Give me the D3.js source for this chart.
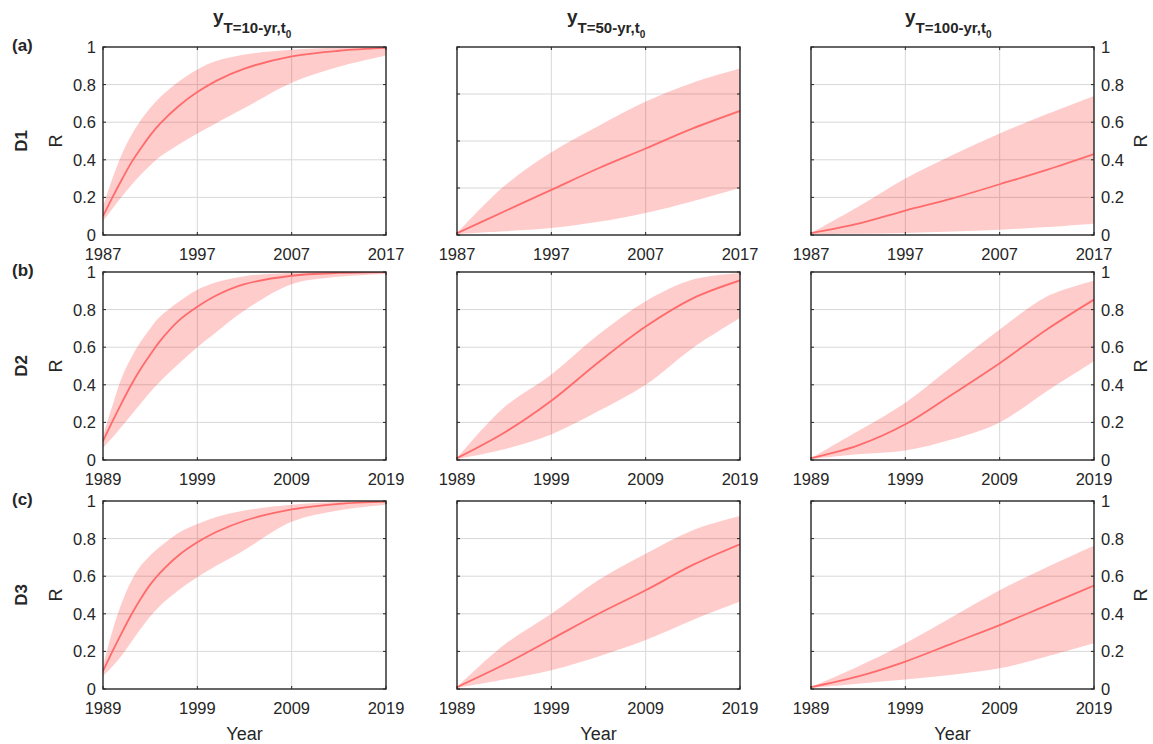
<!DOCTYPE html>
<html>
<head>
<meta charset="utf-8">
<script src="https://cdn.jsdelivr.net/npm/d3@7"></script>
<style>
  body { margin: 0; background: #fff; }
  svg { display: block; }
  text { font-family: "Liberation Sans", Arial, Helvetica, sans-serif; fill: #262626; }
</style>
</head>
<body>
<svg id="fig" width="1153" height="744"></svg>
<script>
// ---- data: reliability R over the design life, mean and 90% band ----
const rowLabels = ["(a)", "(b)", "(c)"];
const rowNames = ["D1", "D2", "D3"];
const startYears = [1987, 1989, 1989];
const returnPeriods = ["10", "50", "100"];

const xTicksD1 = [1987, 1997, 2007, 2017];
const xTicksD23 = [1989, 1999, 2009, 2019];
const yTicks = [0, 0.2, 0.4, 0.6, 0.8, 1];
const yTicksQuarter = [0, 0.25, 0.5, 0.75, 1];
const yTickLabels = ["0", "0.2", "0.4", "0.6", "0.8", "1"];

// years since the start of the record at which values are given
const fastOffsets = [0, 1, 2, 3, 4, 5, 6, 8, 10, 12, 15, 20, 25, 30];
const slowOffsets = [0, 5, 10, 15, 20, 25, 30];

// D1
const d1T10Mean  = [0.10, 0.20, 0.295, 0.385, 0.46, 0.53, 0.59, 0.685, 0.76, 0.82, 0.885, 0.95, 0.98, 0.995];
const d1T10Upper = [0.15, 0.30, 0.43, 0.53, 0.61, 0.675, 0.73, 0.815, 0.88, 0.925, 0.96, 0.985, 0.996, 1.0];
const d1T10Lower = [0.075, 0.14, 0.205, 0.265, 0.32, 0.37, 0.415, 0.48, 0.54, 0.595, 0.675, 0.81, 0.895, 0.955];
const d1T50Mean  = [0.01, 0.125, 0.24, 0.355, 0.46, 0.567, 0.66];
const d1T50Upper = [0.01, 0.26, 0.44, 0.58, 0.71, 0.81, 0.885];
const d1T50Lower = [0.005, 0.02, 0.037, 0.07, 0.117, 0.18, 0.25];
const d1T100Mean  = [0.01, 0.06, 0.13, 0.195, 0.27, 0.346, 0.43];
const d1T100Upper = [0.01, 0.15, 0.30, 0.425, 0.54, 0.643, 0.74];
const d1T100Lower = [0.005, 0.006, 0.01, 0.018, 0.028, 0.042, 0.06];

// D2
const d2T10Mean  = [0.10, 0.205, 0.305, 0.40, 0.485, 0.56, 0.63, 0.74, 0.815, 0.875, 0.935, 0.98, 0.995, 1.0];
const d2T10Upper = [0.125, 0.29, 0.44, 0.545, 0.63, 0.70, 0.76, 0.84, 0.905, 0.945, 0.978, 0.996, 1.0, 1.0];
const d2T10Lower = [0.065, 0.12, 0.18, 0.24, 0.30, 0.36, 0.415, 0.51, 0.60, 0.68, 0.795, 0.935, 0.975, 0.99];
const d2T50Mean  = [0.01, 0.145, 0.315, 0.52, 0.71, 0.86, 0.955];
const d2T50Upper = [0.01, 0.28, 0.455, 0.667, 0.845, 0.96, 0.995];
const d2T50Lower = [0.005, 0.057, 0.136, 0.26, 0.40, 0.596, 0.755];
const d2T100Mean  = [0.01, 0.078, 0.19, 0.35, 0.515, 0.694, 0.853];
const d2T100Upper = [0.01, 0.154, 0.305, 0.50, 0.694, 0.87, 0.954];
const d2T100Lower = [0.005, 0.03, 0.05, 0.11, 0.20, 0.366, 0.525];

// D3
const d3T10Mean  = [0.095, 0.20, 0.30, 0.395, 0.48, 0.555, 0.615, 0.71, 0.78, 0.835, 0.895, 0.955, 0.985, 0.997];
const d3T10Upper = [0.12, 0.31, 0.46, 0.575, 0.655, 0.71, 0.755, 0.83, 0.877, 0.915, 0.95, 0.98, 0.995, 1.0];
const d3T10Lower = [0.07, 0.12, 0.18, 0.25, 0.32, 0.385, 0.44, 0.525, 0.595, 0.655, 0.74, 0.89, 0.95, 0.98];
const d3T50Mean  = [0.01, 0.13, 0.265, 0.40, 0.525, 0.66, 0.77];
const d3T50Upper = [0.01, 0.235, 0.40, 0.58, 0.72, 0.845, 0.92];
const d3T50Lower = [0.005, 0.05, 0.10, 0.173, 0.26, 0.367, 0.465];
const d3T100Mean  = [0.01, 0.067, 0.146, 0.243, 0.34, 0.445, 0.55];
const d3T100Upper = [0.01, 0.12, 0.243, 0.384, 0.525, 0.648, 0.762];
const d3T100Lower = [0.005, 0.028, 0.05, 0.076, 0.11, 0.173, 0.243];

// ---- layout ----
const colLeft = [103, 457, 811];
const rowTop = [47, 272, 501];
const plotW = 283, plotH = 188;
const titleOffset = [110, 110, 94];
const tickLen = 3;

const panels = [
  { r: 0, c: 0, off: fastOffsets, mean: d1T10Mean,  hi: d1T10Upper,  lo: d1T10Lower,  yt: yTicks },
  { r: 0, c: 1, off: slowOffsets, mean: d1T50Mean,  hi: d1T50Upper,  lo: d1T50Lower,  yt: yTicksQuarter },
  { r: 0, c: 2, off: slowOffsets, mean: d1T100Mean, hi: d1T100Upper, lo: d1T100Lower, yt: yTicks },
  { r: 1, c: 0, off: fastOffsets, mean: d2T10Mean,  hi: d2T10Upper,  lo: d2T10Lower,  yt: yTicks },
  { r: 1, c: 1, off: slowOffsets, mean: d2T50Mean,  hi: d2T50Upper,  lo: d2T50Lower,  yt: yTicks },
  { r: 1, c: 2, off: slowOffsets, mean: d2T100Mean, hi: d2T100Upper, lo: d2T100Lower, yt: yTicks },
  { r: 2, c: 0, off: fastOffsets, mean: d3T10Mean,  hi: d3T10Upper,  lo: d3T10Lower,  yt: yTicks },
  { r: 2, c: 1, off: slowOffsets, mean: d3T50Mean,  hi: d3T50Upper,  lo: d3T50Lower,  yt: yTicks },
  { r: 2, c: 2, off: slowOffsets, mean: d3T100Mean, hi: d3T100Upper, lo: d3T100Lower, yt: yTicks }
];

const svg = d3.select("#fig");
const axisColor = "#262626";
const smooth = d3.curveCatmullRom.alpha(0.5);

panels.forEach((p, i) => {
  const x0 = colLeft[p.c], y0 = rowTop[p.r];
  const start = startYears[p.r];
  const xTicks = p.r === 0 ? xTicksD1 : xTicksD23;
  const x = d3.scaleLinear().domain([start, start + 30]).range([x0, x0 + plotW]);
  const y = d3.scaleLinear().domain([0, 1]).range([y0 + plotH, y0]);

  const g = svg.append("g");
  const clipId = "clip" + i;
  g.append("clipPath").attr("id", clipId)
    .append("rect").attr("x", x0).attr("y", y0).attr("width", plotW).attr("height", plotH);

  // grid
  const grid = g.append("g").attr("stroke", "#d8d8d8").attr("stroke-width", 1);
  grid.selectAll("line.v").data(xTicks.slice(1, -1)).join("line")
    .attr("x1", d => x(d)).attr("x2", d => x(d)).attr("y1", y0).attr("y2", y0 + plotH);
  grid.selectAll("line.h").data(p.yt.slice(1, -1)).join("line")
    .attr("x1", x0).attr("x2", x0 + plotW).attr("y1", d => y(d)).attr("y2", d => y(d));

  const rows = p.off.map((o, k) => ({ yr: start + o, m: p.mean[k], hi: p.hi[k], lo: p.lo[k] }));

  const band = d3.area()
    .x(d => x(d.yr)).y0(d => y(d.lo)).y1(d => y(d.hi))
    .curve(smooth);
  const line = d3.line()
    .x(d => x(d.yr)).y(d => y(d.m))
    .curve(smooth);

  const data = g.append("g").attr("clip-path", `url(#${clipId})`);
  data.append("path").datum(rows).attr("d", band)
    .attr("fill", "#ff0000").attr("fill-opacity", 0.2);
  data.append("path").datum(rows).attr("d", line)
    .attr("fill", "none").attr("stroke", "#ff6b6b").attr("stroke-width", 1.8);

  // ticks on all four sides, pointing inward
  const tk = g.append("g").attr("stroke", axisColor).attr("stroke-width", 1);
  xTicks.forEach(t => {
    tk.append("line").attr("x1", x(t)).attr("x2", x(t)).attr("y1", y0 + plotH).attr("y2", y0 + plotH - tickLen);
    tk.append("line").attr("x1", x(t)).attr("x2", x(t)).attr("y1", y0).attr("y2", y0 + tickLen);
  });
  p.yt.forEach(t => {
    tk.append("line").attr("x1", x0).attr("x2", x0 + tickLen).attr("y1", y(t)).attr("y2", y(t));
    tk.append("line").attr("x1", x0 + plotW).attr("x2", x0 + plotW - tickLen).attr("y1", y(t)).attr("y2", y(t));
  });

  // box
  g.append("rect").attr("x", x0).attr("y", y0).attr("width", plotW).attr("height", plotH)
    .attr("fill", "none").attr("stroke", axisColor).attr("stroke-width", 1.4);

  // x tick labels
  g.selectAll("text.xt").data(xTicks).join("text")
    .attr("x", d => x(d)).attr("y", y0 + plotH + 24.5)
    .attr("text-anchor", "middle").attr("font-size", 16.5)
    .text(d => d);

  // y tick labels: left column on the left, right column on the right
  if (p.c === 0 || p.c === 2) {
    const left = p.c === 0;
    g.selectAll("text.yt").data(yTicks).join("text")
      .attr("x", left ? x0 - 7 : x0 + plotW + 7)
      .attr("y", d => y(d)).attr("dy", "0.36em")
      .attr("text-anchor", left ? "end" : "start").attr("font-size", 16.5)
      .text((d, k) => yTickLabels[k]);
    const lx = left ? x0 - 41 : x0 + plotW + 53;
    g.append("text")
      .attr("transform", `translate(${lx},${y0 + plotH / 2}) rotate(-90)`)
      .attr("text-anchor", "middle").attr("font-size", 18)
      .text("R");
  }

  if (p.r === 2) {
    g.append("text").attr("x", x0 + plotW / 2).attr("y", 740)
      .attr("text-anchor", "middle").attr("font-size", 18).text("Year");
  }
});

// column titles
returnPeriods.forEach((T, c) => {
  const t = svg.append("text").attr("x", colLeft[c] + titleOffset[c]).attr("y", 23)
    .attr("font-weight", "bold");
  t.append("tspan").attr("font-size", 19).text("y");
  t.append("tspan").attr("font-size", 15).attr("dy", 10).text(`T=${T}-yr,t`);
  t.append("tspan").attr("font-size", 10).attr("dy", 5).text("0");
});

// row labels
rowLabels.forEach((lab, r) => {
  svg.append("text").attr("x", 12).attr("y", rowTop[r] + 3.5)
    .attr("font-weight", "bold").attr("font-size", 17).text(lab);
  svg.append("text")
    .attr("transform", `translate(27,${rowTop[r] + plotH / 2}) rotate(-90)`)
    .attr("text-anchor", "middle").attr("font-weight", "bold").attr("font-size", 17)
    .text(rowNames[r]);
});
</script>
</body>
</html>
